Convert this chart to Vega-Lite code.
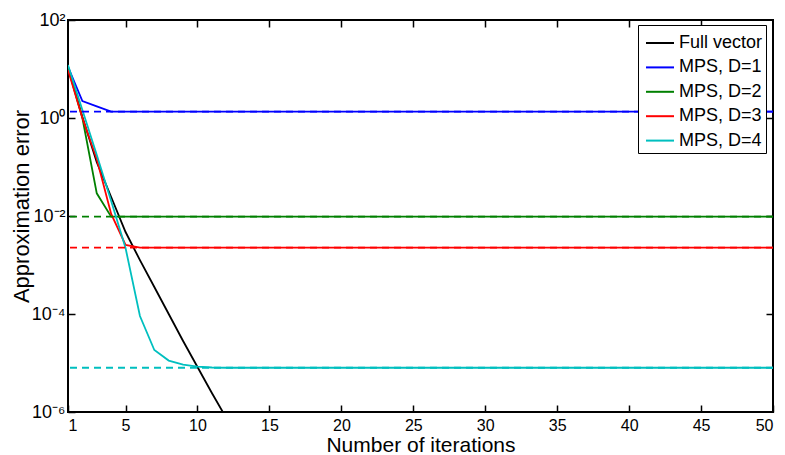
{
  "$schema": "https://vega.github.io/schema/vega-lite/v6.json",
  "width": 705,
  "height": 392,
  "autosize": {"type": "none"},
  "padding": {"left": 68, "top": 20, "right": 12, "bottom": 43},
  "background": "white",
  "config": {
    "font": "Liberation Sans",
    "view": {"stroke": "black", "strokeWidth": 2},
    "axis": {
      "grid": false,
      "domain": false,
      "tickColor": "black",
      "tickSize": -7,
      "tickWidth": 1.5,
      "labelColor": "black",
      "labelFontSize": 16,
      "labelFont": "Liberation Sans",
      "titleColor": "black",
      "titleFontSize": 21,
      "titleFontWeight": "normal",
      "titleFont": "Liberation Sans"
    },
    "legend": {
      "orient": "none",
      "legendX": 570,
      "legendY": 5,
      "fillColor": "white",
      "strokeColor": "black",
      "strokeWidth": 1,
      "padding": 3,
      "cornerRadius": 0,
      "symbolType": "stroke",
      "symbolSize": 784,
      "symbolStrokeWidth": 2,
      "symbolOffset": 4,
      "labelFontSize": 18,
      "labelFont": "Liberation Sans",
      "labelColor": "black",
      "labelOffset": 4,
      "rowPadding": 0.4,
      "labelLimit": 300
    }
  },
  "datasets": {
    "full": [
      {"series": "Full vector", "iter": 1, "error": 11.0},
      {"series": "Full vector", "iter": 2, "error": 1.05},
      {"series": "Full vector", "iter": 3, "error": 0.126},
      {"series": "Full vector", "iter": 4, "error": 0.0244},
      {"series": "Full vector", "iter": 5, "error": 0.00471},
      {"series": "Full vector", "iter": 6, "error": 0.00126},
      {"series": "Full vector", "iter": 7, "error": 0.000356},
      {"series": "Full vector", "iter": 8, "error": 0.0001},
      {"series": "Full vector", "iter": 9, "error": 0.0000281},
      {"series": "Full vector", "iter": 10, "error": 0.00000828},
      {"series": "Full vector", "iter": 11, "error": 0.00000244},
      {"series": "Full vector", "iter": 12, "error": 0.000000755}
    ],
    "mps": [
      {"series": "MPS, D=1", "iter": 1, "error": 11.1},
      {"series": "MPS, D=1", "iter": 2, "error": 2.22},
      {"series": "MPS, D=1", "iter": 3, "error": 1.73},
      {"series": "MPS, D=1", "iter": 4, "error": 1.35},
      {"series": "MPS, D=1", "iter": 50, "error": 1.35},
      {"series": "MPS, D=2", "iter": 1, "error": 10.5},
      {"series": "MPS, D=2", "iter": 2, "error": 1.0},
      {"series": "MPS, D=2", "iter": 3, "error": 0.029},
      {"series": "MPS, D=2", "iter": 4, "error": 0.00968},
      {"series": "MPS, D=2", "iter": 50, "error": 0.00968},
      {"series": "MPS, D=3", "iter": 1, "error": 9.55},
      {"series": "MPS, D=3", "iter": 2, "error": 1.0},
      {"series": "MPS, D=3", "iter": 3, "error": 0.146},
      {"series": "MPS, D=3", "iter": 4, "error": 0.011},
      {"series": "MPS, D=3", "iter": 5, "error": 0.00256},
      {"series": "MPS, D=3", "iter": 6, "error": 0.00226},
      {"series": "MPS, D=3", "iter": 50, "error": 0.00226},
      {"series": "MPS, D=4", "iter": 1, "error": 12.1},
      {"series": "MPS, D=4", "iter": 2, "error": 1.46},
      {"series": "MPS, D=4", "iter": 3, "error": 0.176},
      {"series": "MPS, D=4", "iter": 4, "error": 0.0202},
      {"series": "MPS, D=4", "iter": 5, "error": 0.00222},
      {"series": "MPS, D=4", "iter": 6, "error": 0.000091},
      {"series": "MPS, D=4", "iter": 7, "error": 0.0000184},
      {"series": "MPS, D=4", "iter": 8, "error": 0.0000112},
      {"series": "MPS, D=4", "iter": 9, "error": 0.0000093},
      {"series": "MPS, D=4", "iter": 10, "error": 0.0000084},
      {"series": "MPS, D=4", "iter": 11, "error": 0.0000081},
      {"series": "MPS, D=4", "iter": 12, "error": 0.000008},
      {"series": "MPS, D=4", "iter": 50, "error": 0.000008}
    ],
    "limits": [
      {"series": "MPS, D=1", "limit": 1.35},
      {"series": "MPS, D=2", "limit": 0.00968},
      {"series": "MPS, D=3", "limit": 0.00226},
      {"series": "MPS, D=4", "limit": 0.000008}
    ]
  },
  "resolve": {"axis": {"x": "independent", "y": "independent"}},
  "layer": [
    {
      "data": {"name": "full"},
      "mark": {"type": "line", "clip": true, "strokeWidth": 1.8},
      "encoding": {
        "x": {
          "field": "iter", "type": "quantitative",
          "scale": {"domain": [1, 50], "nice": false, "zero": false},
          "axis": {"orient": "top", "labels": false, "title": null, "values": [5, 10, 15, 20, 25, 30, 35, 40, 45]}
        },
        "y": {
          "field": "error", "type": "quantitative",
          "scale": {"type": "log", "domain": [0.000001, 100], "nice": false},
          "axis": {"orient": "right", "labels": false, "title": null, "values": [0.0001, 0.01, 1]}
        },
        "color": {
          "field": "series", "type": "nominal", "title": null,
          "scale": {
            "domain": ["Full vector", "MPS, D=1", "MPS, D=2", "MPS, D=3", "MPS, D=4"],
            "range": ["#000000", "#0000FF", "#008000", "#FF0000", "#00BFBF"]
          }
        }
      }
    },
    {
      "data": {"name": "mps"},
      "mark": {"type": "line", "clip": true, "strokeWidth": 1.8},
      "encoding": {
        "x": {
          "field": "iter", "type": "quantitative",
          "scale": {"domain": [1, 50], "nice": false, "zero": false},
          "axis": {"orient": "bottom", "title": "Number of iterations", "values": [1, 5, 10, 15, 20, 25, 30, 35, 40, 45, 50], "labelPadding": 12, "titlePadding": 1}
        },
        "y": {
          "field": "error", "type": "quantitative",
          "scale": {"type": "log", "domain": [0.000001, 100], "nice": false},
          "axis": {
            "orient": "left", "title": "Approximation error", "titleFontSize": 22,
            "values": [0.000001, 0.0001, 0.01, 1, 100],
            "labelPadding": 10, "labelFontSize": 18,
            "labelExpr": "datum.value > 10 ? '10²' : datum.value > 0.1 ? '10⁰' : datum.value > 0.001 ? '10⁻²' : datum.value > 0.00001 ? '10⁻⁴' : '10⁻⁶'",
            "titleX": -35, "titleY": 186
          }
        },
        "color": {"field": "series", "type": "nominal", "title": null}
      }
    },
    {
      "data": {"name": "limits"},
      "mark": {"type": "rule", "strokeWidth": 1.8, "strokeDash": [7, 5]},
      "encoding": {
        "y": {"field": "limit", "type": "quantitative", "scale": {"type": "log", "domain": [0.000001, 100], "nice": false}, "axis": null},
        "color": {"field": "series", "type": "nominal", "title": null}
      }
    }
  ]
}
